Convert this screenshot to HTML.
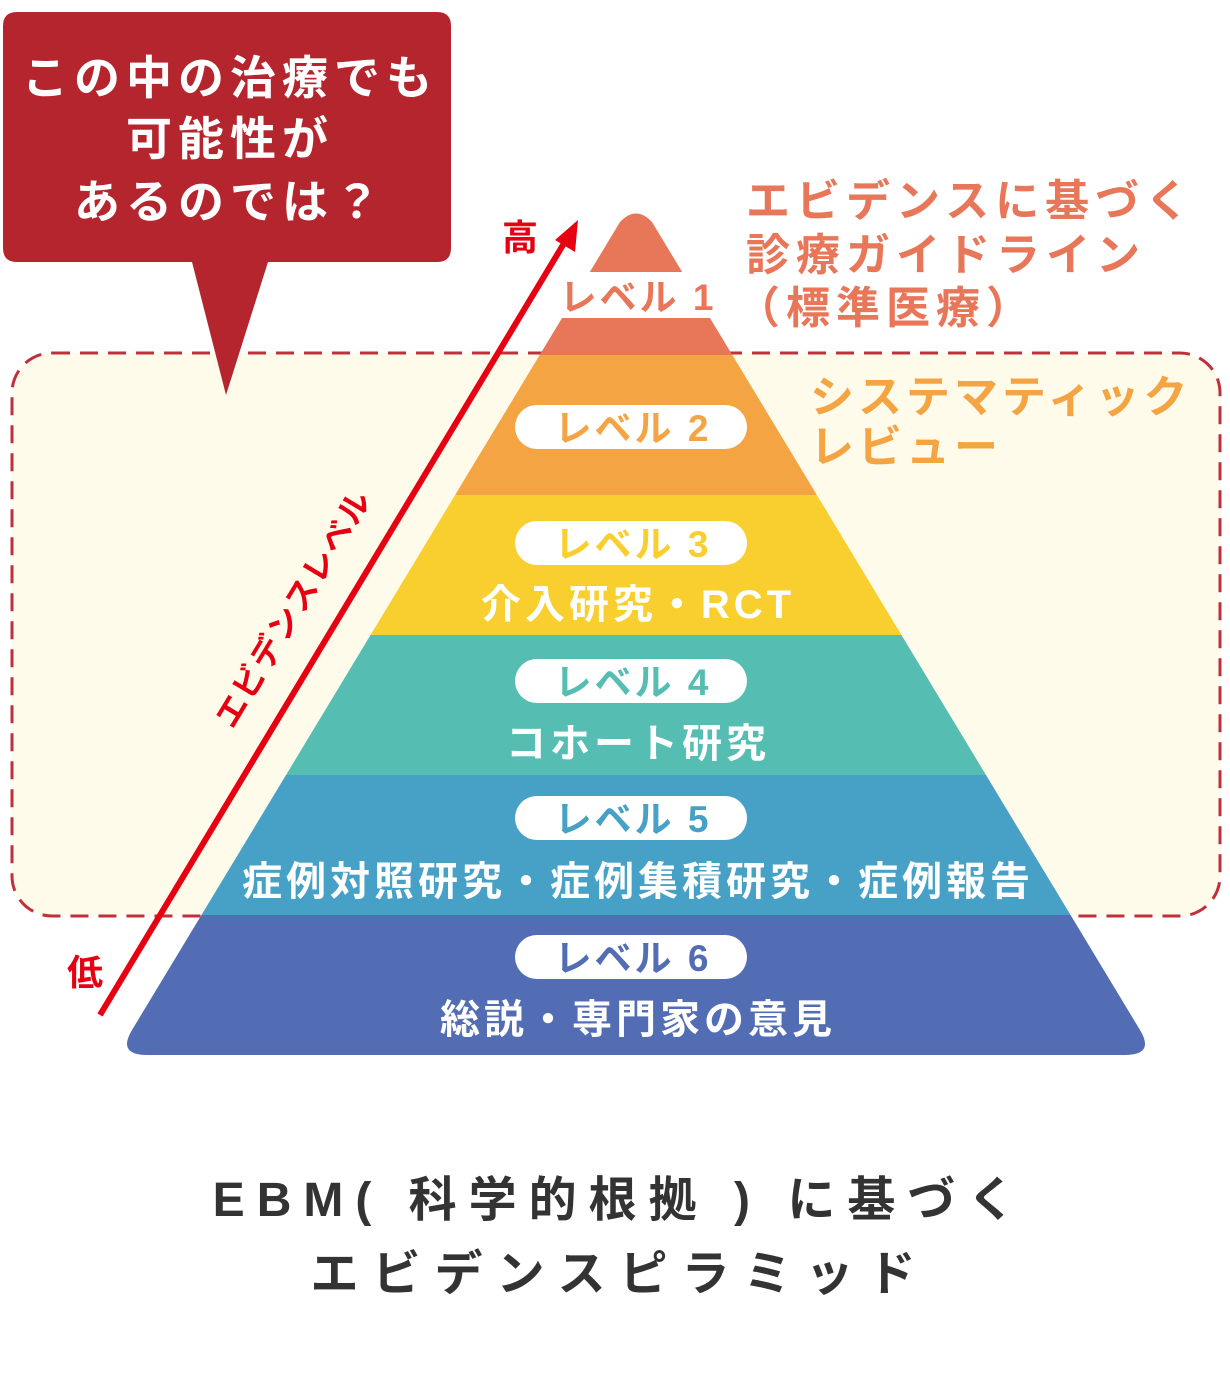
<!DOCTYPE html>
<html><head><meta charset="utf-8">
<style>
html,body{margin:0;padding:0;background:#fff;}
svg{display:block;}
text{font-family:"Liberation Sans","Noto Sans CJK JP",sans-serif;font-weight:bold;}
</style></head>
<body>
<svg width="1230" height="1378" viewBox="0 0 1230 1378" xmlns="http://www.w3.org/2000/svg">
<defs>
<clipPath id="pyr">
<path d="M620 222 Q636 205 652 222 L1140 1030 Q1155 1055 1125 1055 L147 1055 Q117 1055 132 1030 Z"/>
</clipPath>
</defs>
<rect x="12" y="353" width="1208" height="563" rx="40" fill="#FEFBEA" stroke="#C0303A" stroke-width="3" stroke-dasharray="18 10"/>
<g clip-path="url(#pyr)">
<rect x="0" y="200" width="1230" height="72" fill="#E8775A"/>
<rect x="0" y="272" width="1230" height="46" fill="#fff"/>
<rect x="0" y="318" width="1230" height="37" fill="#E8775A"/>
<rect x="0" y="355" width="1230" height="140" fill="#F5A444"/>
<rect x="0" y="495" width="1230" height="140" fill="#F8CF2E"/>
<rect x="0" y="635" width="1230" height="140" fill="#56BDB2"/>
<rect x="0" y="775" width="1230" height="140" fill="#47A1C6"/>
<rect x="0" y="915" width="1230" height="145" fill="#536DB4"/>
</g>
<text x="638" y="310" font-size="37" fill="#E8775A" text-anchor="middle" letter-spacing="3">レベル 1</text>
<g font-size="37" text-anchor="middle" letter-spacing="3">
<rect x="515" y="405" width="232" height="44" rx="22" fill="#fff"/><text x="633" y="441" fill="#F5A444">レベル 2</text>
<rect x="515" y="521" width="232" height="44" rx="22" fill="#fff"/><text x="633" y="557" fill="#F8CF2E">レベル 3</text>
<rect x="515" y="659" width="232" height="44" rx="22" fill="#fff"/><text x="633" y="695" fill="#56BDB2">レベル 4</text>
<rect x="515" y="796" width="232" height="44" rx="22" fill="#fff"/><text x="633" y="832" fill="#47A1C6">レベル 5</text>
<rect x="515" y="935" width="232" height="44" rx="22" fill="#fff"/><text x="633" y="971" fill="#536DB4">レベル 6</text>
</g>
<g font-size="40" fill="#fff" text-anchor="middle" letter-spacing="4">
<text x="638" y="618">介入研究・RCT</text>
<text x="638" y="757">コホート研究</text>
<text x="638" y="895">症例対照研究・症例集積研究・症例報告</text>
<text x="638" y="1033">総説・専門家の意見</text>
</g>
<g font-size="44" fill="#E8775A" letter-spacing="6">
<text x="746" y="216">エビデンスに基づく</text>
<text x="746" y="270">診療ガイドライン</text>
<text x="736" y="323">（標準医療）</text>
</g>
<g font-size="44" fill="#F5A444" letter-spacing="4">
<text x="810" y="412">システマティック</text>
<text x="810" y="462">レビュー</text>
</g>
<path d="M3 26 Q3 12 17 12 L437 12 Q451 12 451 26 L451 248 Q451 262 437 262 L268 262 L226 395 L192 262 L17 262 Q3 262 3 248 Z" fill="#B5252D"/>
<g font-size="46" fill="#fff" text-anchor="middle" letter-spacing="6">
<text x="230" y="94">この中の治療でも</text>
<text x="230" y="155">可能性が</text>
<text x="230" y="218">あるのでは？</text>
</g>
<line x1="100" y1="1015" x2="566" y2="240" stroke="#E60012" stroke-width="6"/>
<polygon points="578,220 555,240 575,252" fill="#E60012"/>
<text x="520" y="250" font-size="36" fill="#E60012" text-anchor="middle">高</text>
<text x="85" y="985" font-size="36" fill="#E60012" text-anchor="middle">低</text>
<text transform="translate(303,614) rotate(-59)" font-size="32" fill="#E60012" text-anchor="middle" letter-spacing="2">エビデンスレベル</text>
<g font-size="48" fill="#333" text-anchor="middle" letter-spacing="12">
<text x="620" y="1216">EBM( 科学的根拠 ) に基づく</text>
<text x="620" y="1290" letter-spacing="14">エビデンスピラミッド</text>
</g>
</svg>
</body></html>
